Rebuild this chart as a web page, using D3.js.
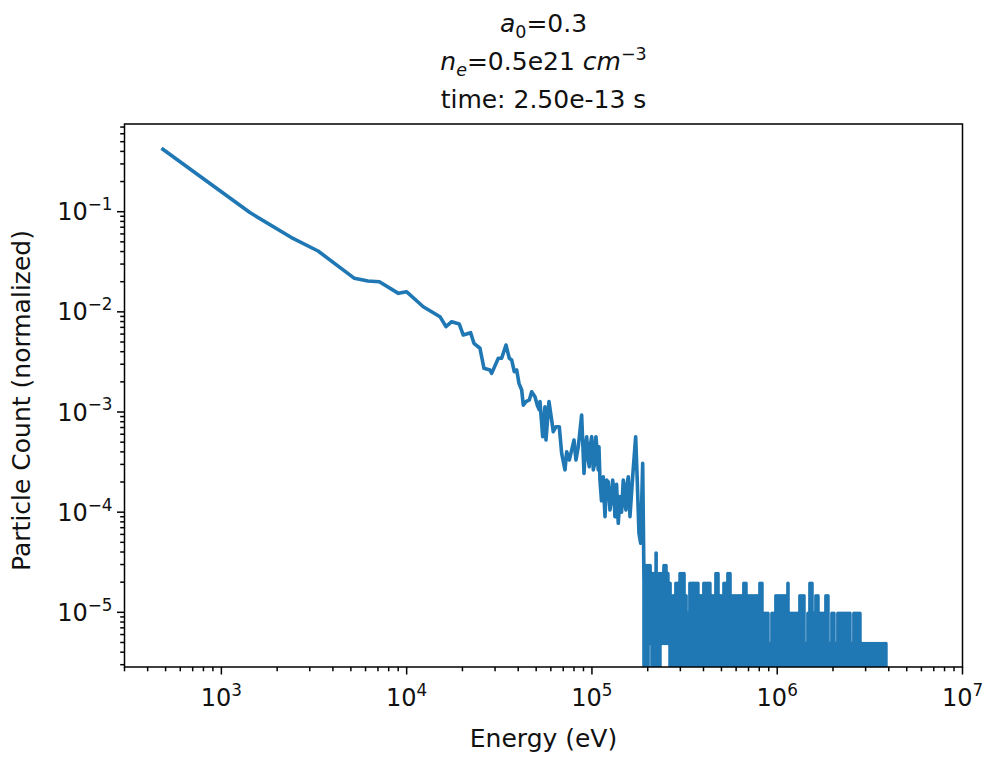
<!DOCTYPE html>
<html><head><meta charset="utf-8">
<script src="https://cdn.jsdelivr.net/npm/d3@7"></script>
<style>
body{margin:0;background:#fff;}
svg{display:block;font-family:"DejaVu Sans",sans-serif;}
</style>
</head><body>
<svg id="chart" width="985" height="757"></svg>
<script>
// ---------- data ----------
// low / mid energy part of the spectrum (eV, normalized count)
const energy = [475,1425,2375,3325,5225,6175,7125,9025,9975,
  12290,13360,15130,16300,17500,19230,20210,22150,23080,24870,26140,28160,28760,
  31230,32570,34360,35800,36880,38090,39250,40390,41770,42610,
  44060,45900,47290,49270,50700,51970,
  52430,54210,55780,56480,58620,60620,61840,63950,66630,68650,
  71530,73060,75450,77740,80000,82000,84400,88000,90600,92300,93700,95200,
  96800,98200,99700,100700,101700,103200,105100,106500,108200,109100,110500,
  112600,115100,116100,117600,120100,122500,125100,127200,129400,131500,133100,135800,
  138700,141700,144500,147600,150000,152600,154600,157100,158900,160400,165900,172200,
  175600,179400,183200,187900];
const count = [0.430,0.098,0.0555,0.0405,0.0216,0.0203,0.0200,0.0153,0.0159,
  0.01125,0.01027,0.00895,0.00711,0.00797,0.00756,0.00587,0.00619,0.00485,0.00433,0.00273,0.00263,0.00243,
  0.00344,0.00344,0.00467,0.00344,0.00331,0.00253,0.00263,0.00193,0.00166,0.00117,
  0.00127,0.00132,0.00159,0.00142,0.00117,0.00105,
  0.00127,5.67e-4,0.00113,5.25e-4,0.00127,8.32e-4,6.36e-4,7.13e-4,7.13e-4,3.87e-4,
  2.64e-4,4.01e-4,3.32e-4,4.17e-4,5.25e-4,3.32e-4,4.50e-4,9.33e-4,2.44e-4,4.5e-4,5.67e-4,3.5e-4,
  2.84e-4,4.8e-4,5.67e-4,4.5e-4,2.64e-4,3.0e-4,5.67e-4,4.2e-4,2.64e-4,4.5e-4,2.09e-4,
  1.3e-4,2.26e-4,1.5e-4,9.01e-5,2.09e-4,2.0e-4,1.05e-4,1.3e-4,2.09e-4,1.6e-4,9.01e-5,1.9e-4,
  7.74e-5,1.43e-4,1.0e-4,2.09e-4,1.3e-4,1.05e-4,1.9e-4,2.26e-4,1.5e-4,9.01e-5,2.26e-4,5.67e-4,
  2.09e-4,6.15e-5,4.89e-5,3.07e-4];

// high-energy tail: per resolved column, energy (keV), highest and lowest particle counts
const countUnit = 4.88e-6; // normalized value of a single particle
const tailEnergyKeV = [191,196,201,206,211,216,222,227,233,239,
  245,251,257,264,270,277,284,291,299,306,
  314,322,330,338,347,355,364,373,383,392,
  402,412,423,433,444,455,467,479,491,503,
  516,529,542,556,570,584,599,614,629,645,
  661,678,695,713,731,749,768,787,807,827,
  848,869,891,914,937,960,984,1009,1035,1061,
  1087,1115,1143,1171,1201,1231,1262,1294,1326,1360,
  1394,1429,1465,1502,1540,1578,1618,1659,1700,1743,
  1787,1832,1878,1925,1974,2023,2074,2126,2180,2235,
  2291,2349,2408,2468,2530,2594,2659,2726,2795,2865,
  2937,3011,3087,3165,3244,3326,3410,3495,3583,3673,3766,3860];
const tailPeak = [4,6,6,6,5,5,8,5,5,5,
  6,6,5,4,3,3,4,4,5,5,
  5,3,2,4,4,4,4,4,3,3,
  4,4,4,4,3,3,5,5,3,3,
  4,4,5,5,3,3,3,3,3,3,
  4,4,3,3,3,3,3,3,4,4,
  2,2,2,1,2,2,3,3,3,3,
  3,3,4,2,2,2,2,2,3,3,
  3,1,2,4,4,2,3,3,2,2,
  2,3,3,1,2,2,1,2,2,2,
  2,2,2,2,1,2,2,2,2,1,
  1,1,1,1,1,1,1,1,1,1,1,1];
const tailLow = [0,0,1,1,0,0,0,0,1,1,
  1,1,1,0,0,0,0,0,0,0,
  0,0,0,0,0,0,0,0,0,0,
  0,0,0,0,0,0,0,0,0,0,
  0,0,0,0,0,0,0,0,0,0,
  0,0,0,0,0,0,0,0,0,0,
  0,0,0,0,0,0,0,0,0,0,
  0,0,0,0,0,0,0,0,0,0,
  0,0,0,0,0,0,0,0,0,0,
  0,0,0,0,0,0,0,0,0,0,
  0,0,0,0,0,0,0,0,0,0,
  0,0,0,0,0,0,0,0,0,0,0,0];

const xDomain = [300, 1e7];
const yDomain = [2.845e-6, 0.751];
const xMajorExp = [3,4,5,6,7];
const yMajorExp = [-5,-4,-3,-2,-1];
const xLabel = "Energy (eV)";
const yLabel = "Particle Count (normalized)";
const titleTime = "time: 2.50e-13 s";

// ---------- layout ----------
const L = 124.5, R = 962.5, T = 124, B = 667;
const FS = 25, TFS = 24;
const svg = d3.select("#chart");
const x = d3.scaleLog().domain(xDomain).range([L, R]);
const y = d3.scaleLog().domain(yDomain).range([B, T]);

// build the series
const series = energy.map((e, i) => ({E: e, v: count[i]}));
tailEnergyKeV.forEach((k, i) => {
  series.push({E: k * 1000, v: tailPeak[i] * countUnit});
  series.push({E: k * 1000, v: tailLow[i] * countUnit});
});

svg.append("defs").append("clipPath").attr("id", "clip")
  .append("rect").attr("x", L).attr("y", T).attr("width", R - L).attr("height", B - T);

const line = d3.line()
  .x(d => x(d.E))
  .y(d => y(d.v > 0 ? d.v : 1e-30));

svg.append("path").datum(series)
  .attr("clip-path", "url(#clip)")
  .attr("d", line)
  .attr("fill", "none")
  .attr("stroke", "#1f77b4")
  .attr("stroke-width", 3.6)
  .attr("stroke-linejoin", "round")
  .attr("stroke-linecap", "butt");

// ---------- axes ----------
const isMajor = v => Math.abs(Math.log10(v) - Math.round(Math.log10(v))) < 1e-9;
const tickW = 1.5;

const xt = x.ticks().filter(v => v >= xDomain[0] && v <= xDomain[1]);
svg.append("g").selectAll("line").data(xt).join("line")
  .attr("x1", d => x(d)).attr("x2", d => x(d))
  .attr("y1", B).attr("y2", d => B + (isMajor(d) ? 7.5 : 4.3))
  .attr("stroke", "#000").attr("stroke-width", tickW);

const yt = y.ticks().filter(v => v >= yDomain[0] && v <= yDomain[1]);
svg.append("g").selectAll("line").data(yt).join("line")
  .attr("y1", d => y(d)).attr("y2", d => y(d))
  .attr("x1", L).attr("x2", d => L - (isMajor(d) ? 7.5 : 4.3))
  .attr("stroke", "#000").attr("stroke-width", tickW);

// frame
svg.append("rect").attr("x", L).attr("y", T).attr("width", R - L).attr("height", B - T)
  .attr("fill", "none").attr("stroke", "#000").attr("stroke-width", 1.5);

// tick labels
const xl = svg.append("g").attr("font-size", TFS).attr("fill", "#111");
xMajorExp.forEach(e => {
  const t = xl.append("text").attr("x", x(Math.pow(10, e))).attr("y", B + 39)
    .attr("text-anchor", "middle");
  t.append("tspan").text("10");
  t.append("tspan").attr("font-size", TFS * 0.7).attr("dy", -TFS * 0.42).text(String(e));
});
const yl = svg.append("g").attr("font-size", TFS).attr("fill", "#111");
yMajorExp.forEach(e => {
  const t = yl.append("text").attr("x", L - 12).attr("y", y(Math.pow(10, e)) + 8.5)
    .attr("text-anchor", "end");
  t.append("tspan").text("10");
  t.append("tspan").attr("font-size", TFS * 0.7).attr("dy", -TFS * 0.42).text("\u2212" + Math.abs(e));
});

// axis labels
svg.append("text").attr("x", (L + R) / 2).attr("y", 747).attr("text-anchor", "middle")
  .attr("font-size", FS).attr("fill", "#111").text(xLabel);
svg.append("text").attr("transform", `translate(30,${(T + B) / 2 + 5}) rotate(-90)`)
  .attr("text-anchor", "middle").attr("font-size", FS).attr("fill", "#111").text(yLabel);

// title (three lines)
const cx = (L + R) / 2;
const t1 = svg.append("text").attr("x", cx).attr("y", 32).attr("text-anchor", "middle")
  .attr("font-size", FS).attr("fill", "#111");
t1.append("tspan").attr("font-style", "italic").text("a");
t1.append("tspan").attr("font-size", FS * 0.7).attr("dy", FS * 0.22).text("0");
t1.append("tspan").attr("dy", -FS * 0.22).text("=0.3");

const t2 = svg.append("text").attr("x", cx).attr("y", 70).attr("text-anchor", "middle")
  .attr("font-size", FS).attr("fill", "#111");
t2.append("tspan").attr("font-style", "italic").text("n");
t2.append("tspan").attr("font-style", "italic").attr("font-size", FS * 0.7).attr("dy", FS * 0.22).text("e");
t2.append("tspan").attr("dy", -FS * 0.22).text("=0.5e21 ");
t2.append("tspan").attr("font-style", "italic").text("cm");
t2.append("tspan").attr("font-size", FS * 0.7).attr("dy", -FS * 0.42).text("\u22123");

svg.append("text").attr("x", cx).attr("y", 108).attr("text-anchor", "middle")
  .attr("font-size", FS).attr("fill", "#111").text(titleTime);
</script>
</body></html>
